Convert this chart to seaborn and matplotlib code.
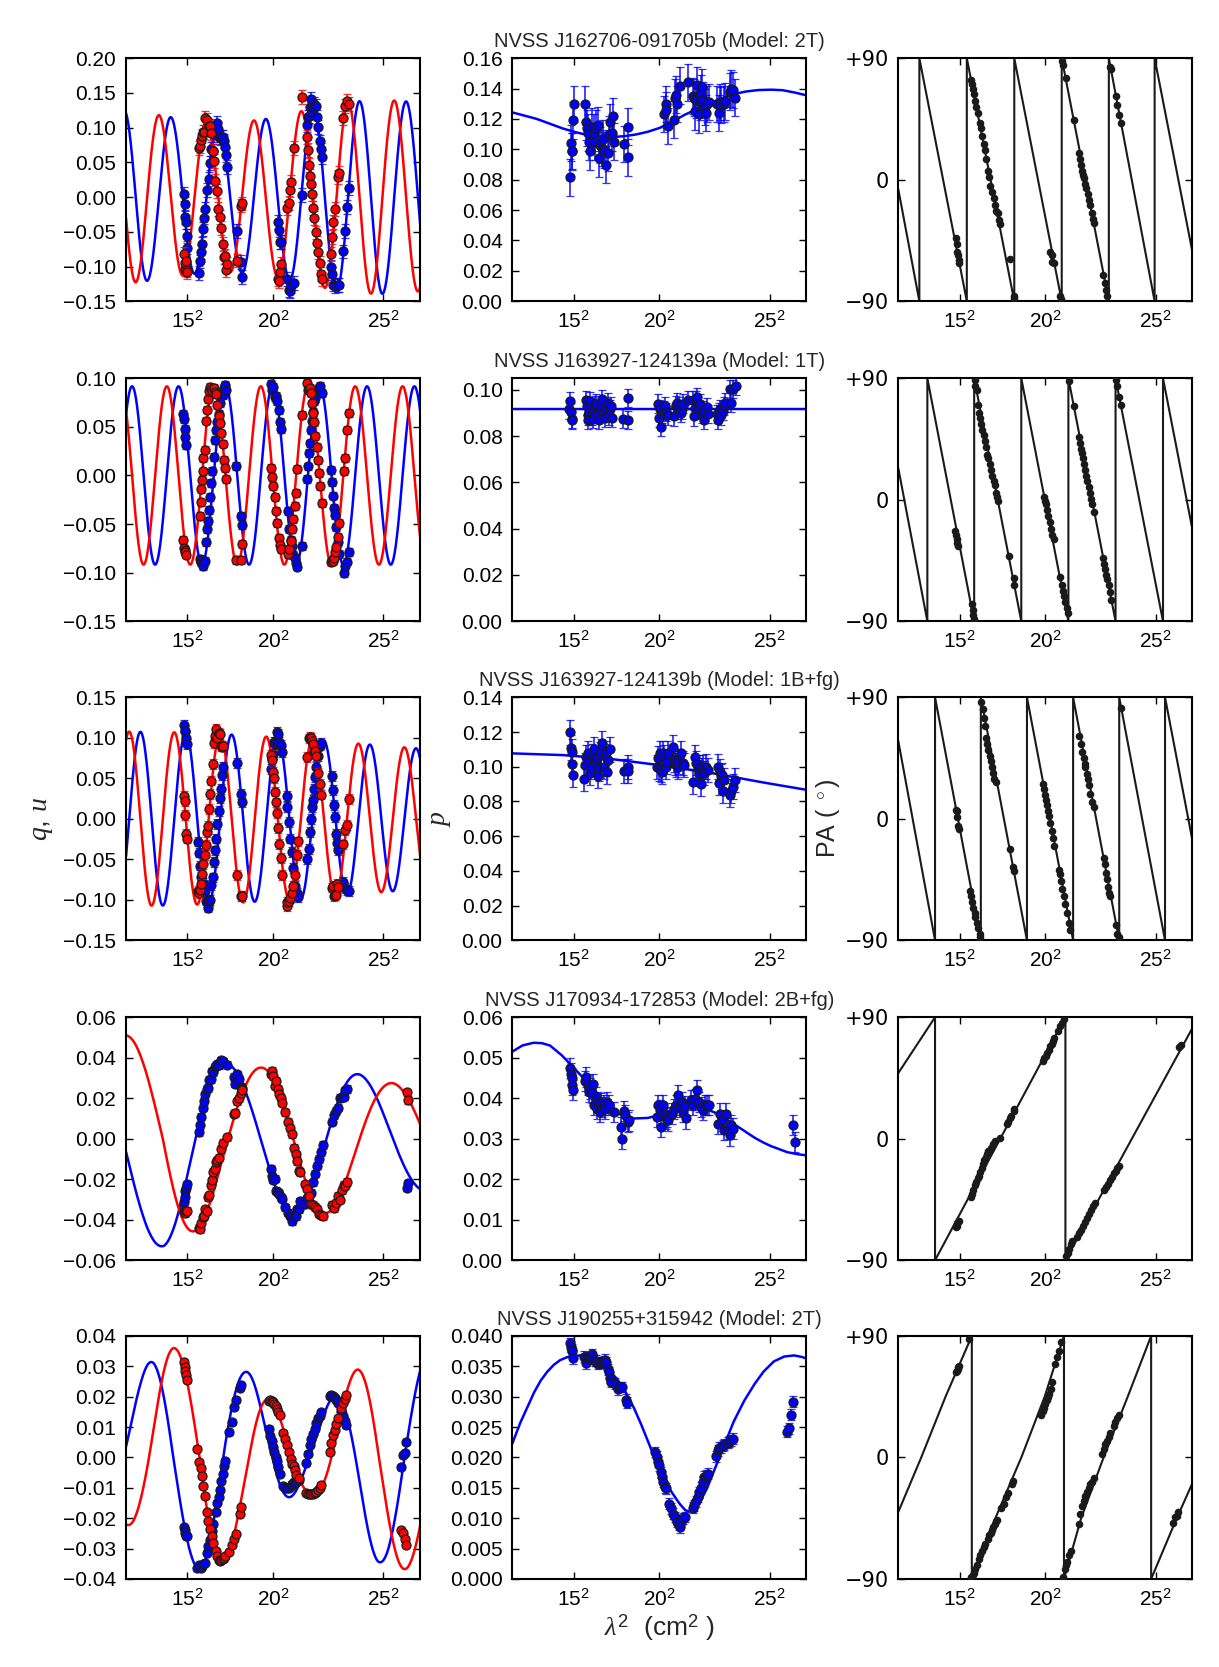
import numpy as np
import matplotlib
matplotlib.use("Agg")
import matplotlib.pyplot as plt
import matplotlib.ticker as mticker
import seaborn as sns

# Values.
# Per source: channel lambda^2 (cm^2), polarisation angle PA (deg), fractional polarisation p.
# q and u are the Cartesian form of (p, 2 PA).

titles = ["NVSS J162706-091705b (Model: 2T)",
          "NVSS J163927-124139a (Model: 1T)",
          "NVSS J163927-124139b (Model: 1B+fg)",
          "NVSS J170934-172853 (Model: 2B+fg)",
          "NVSS J190255+315942 (Model: 2T)"]

# ---- source 1 ----
lam2_r1 = [218.0, 219.3, 220.7, 222.0, 223.4, 224.8,
           248.0, 250.0, 252.0, 254.8, 256.8, 258.9, 261.6, 265.7, 268.4, 271.1, 273.9, 276.6, 279.3,
           282.0, 284.8, 287.5, 290.9, 294.3, 297.7, 299.8, 302.5, 304.8, 306.5,
           327.0, 335.2, 336.6,
           410.2, 413.0, 414.3, 417.0, 429.3, 432.0, 434.1, 436.1, 443.0, 458.0,
           468.2, 470.2, 473.0, 475.0, 477.0, 479.8, 481.8, 483.9, 486.6, 489.3, 492.0, 494.8, 497.5, 500.2,
           517.3, 520.7, 522.7, 526.1, 531.6, 534.3, 543.2, 546.6, 550.0, 554.8]
pa_r1 = [-43.4, -47.7, -53.4, -55.7, -59.1, -62.0,
         73.7, 70.9, 67.0, 63.7, 58.0, 53.7, 49.4, 42.3, 38.0, 32.3, 26.6, 22.3, 15.1,
         6.6, 2.3, -4.9, -9.1, -13.4, -19.1, -23.4, -24.9, -30.0, -33.0,
         -59.0, -86.3, -87.7,
         -53.4, -55.7, -60.6, -62.0, -86.3, -88.3, 88.0, 85.1, 75.1, 44.3,
         20.0, 15.1, 10.9, 6.6, 3.7, 0.9, -3.4, -6.3, -10.6, -14.9, -19.1, -24.9, -29.1, -32.0,
         -70.6, -76.3, -82.0, -86.3, 83.7, 82.3, 62.3, 55.1, 48.0, 42.3]
p_r1 = [0.0815, 0.104, 0.099, 0.0986, 0.119, 0.130,
        0.130, 0.118, 0.114, 0.111, 0.105, 0.0986, 0.115, 0.111, 0.105, 0.114, 0.116, 0.094, 0.103,
        0.101, 0.107, 0.0997, 0.090, 0.0975, 0.110, 0.118, 0.111, 0.122, 0.105,
        0.1035, 0.0947, 0.115,
        0.1234, 0.130, 0.126, 0.1155, 0.1195, 0.134, 0.136, 0.130, 0.142, 0.144,
        0.135, 0.134, 0.125, 0.1326, 0.1425, 0.123, 0.131, 0.137, 0.141, 0.1326, 0.128, 0.124, 0.130, 0.131,
        0.130, 0.124, 0.131, 0.129, 0.130, 0.1315, 0.138, 0.140, 0.139, 0.134]
pmod_x_r1 = [100, 125, 150, 175, 200, 225, 250, 275, 300, 325, 350, 375, 400, 425, 450, 475,
             500, 525, 550, 575, 600, 625, 650, 675, 700]
pmod_r1 = [0.1243, 0.1222, 0.120, 0.1170, 0.114, 0.1116, 0.1096, 0.1085, 0.108, 0.1085, 0.1096,
           0.1114, 0.114, 0.118, 0.1225, 0.1263, 0.130, 0.1333, 0.1363, 0.138, 0.139, 0.1393,
           0.139, 0.1375, 0.1355]
pamod_x_r1 = [100, 143.0, 143.0, 239.8, 239.8, 336.6, 336.6, 433.4, 433.4, 529.5, 529.5, 622.9, 622.9, 700]
pamod_r1 = [-7, -90, 90, -90, 90, -90, 90, -90, 90, -90, 90, -90, 90, -53.5]

# ---- source 2 ----
lam2_r2 = [215.9, 218.0, 219.3, 220.7, 222.7,
           250.0, 252.0, 253.4, 254.8, 256.1, 257.5, 260.2, 262.3, 264.3, 267.0, 269.1, 271.1, 273.9,
           275.9, 278.6, 280.7, 283.4, 286.1, 288.9, 291.6, 294.3, 297.0, 299.1, 301.1, 303.2,
           325.0, 335.2, 336.6,
           396.6, 398.6, 400.7, 403.4, 406.1, 408.9, 411.6, 414.3, 417.0, 430.7, 433.4, 436.1, 438.9,
           440.9, 444.3, 446.4, 447.7, 458.0,
           468.2, 470.2, 472.3, 474.3, 476.4, 478.4, 480.4, 483.2, 485.9, 488.6, 490.7, 493.4, 496.1, 498.9,
           517.3, 519.3, 522.0, 524.1, 526.1, 528.9, 531.6, 534.3, 543.9, 546.6, 550.7, 555.3]
pa_r2 = [-23.2, -26.1, -28.9, -31.7, -34.6,
         -77.0, -81.3, -85.6, -88.4, 88.7, 84.5, 81.6, 70.3, 64.6, 60.4, 56.1, 51.9, 47.6,
         43.4, 39.1, 33.4, 30.6, 26.4, 22.1, 17.9, 13.6, 10.8, 5.1, 2.3, -1.1,
         -41.7, -57.8, -62.9,
         2.3, -0.6, -3.4, -7.7, -11.9, -16.2, -21.8, -26.1, -28.9, -57.3, -62.9, -67.2, -71.4,
         -75.7, -79.9, -84.2, 87.9, 69.7,
         46.2, 42.0, 37.7, 34.9, 30.6, 26.4, 22.1, 17.9, 13.6, 9.4, 5.1, 0.9, -3.4, -9.1,
         -43.1, -47.3, -51.6, -55.8, -58.7, -62.9, -68.6, -74.3, 88.7, 84.5, 76.0, 70.3]
p_r2 = [0.0915, 0.095, 0.0905, 0.0875, 0.087,
        0.0955, 0.093, 0.089, 0.087, 0.0905, 0.095, 0.092, 0.089, 0.0875, 0.091, 0.0935, 0.094, 0.0895,
        0.087, 0.0915, 0.093, 0.096, 0.0905, 0.088, 0.092, 0.0945, 0.089, 0.0915, 0.093, 0.088,
        0.0875, 0.0964, 0.087,
        0.094, 0.088, 0.0915, 0.084, 0.0895, 0.091, 0.093, 0.0905, 0.089, 0.0885, 0.0935, 0.0945, 0.0915,
        0.093, 0.090, 0.0915, 0.094, 0.0955,
        0.0955, 0.0885, 0.092, 0.0955, 0.097, 0.093, 0.0915, 0.094, 0.0895, 0.091, 0.087, 0.0905, 0.0925, 0.0895,
        0.0895, 0.087, 0.0905, 0.0915, 0.089, 0.091, 0.093, 0.0945, 0.1004, 0.0945, 0.1003, 0.1016]
pmod_x_r2 = [100, 700]
pmod_r2 = [0.0917, 0.0917]
pamod_x_r2 = [100, 159.3, 159.3, 254.8, 254.8, 350.9, 350.9, 447.0, 447.0, 543.2, 543.2, 640.0, 640.0, 700]
pamod_r2 = [23.5, -90, 90, -90, 90, -90, 90, -90, 90, -90, 90, -90, 90, -22]

# ---- source 3 ----
lam2_r3 = [218.0, 219.3, 220.7, 222.0, 223.4,
           246.6, 248.6, 250.7, 253.4, 255.5, 257.5, 260.2, 262.9, 265.7, 267.0, 269.7, 271.8, 273.9,
           276.6, 279.3, 281.4, 283.4, 286.1, 288.9, 290.9, 292.9, 295.7, 298.4,
           327.0, 335.0, 336.6,
           395.2, 397.3, 399.3, 401.4, 403.4, 405.5, 407.5, 410.2, 413.0, 415.7, 418.4, 427.3, 429.3,
           432.0, 434.8, 437.5, 440.9, 444.3, 448.4, 451.1,
           469.2, 472.6, 474.6, 477.9, 479.9, 481.4, 484.1, 486.2, 488.2, 491.6, 495.0, 498.4,
           519.3, 521.4, 523.4, 525.5, 527.5, 529.5, 531.6, 543.2, 546.6, 550.0, 554.8]
pa_r3 = [6.9, 5.6, 1.3, -5.2, -7.4,
         -53.8, -57.2, -61.6, -65.9, -69.4, -72.4, -76.8, -81.1, -85.5, -87.6, 86.7, 81.5, 75.0,
         68.5, 59.8, 55.5, 51.2, 46.8, 42.5, 38.2, 33.8, 29.5, 27.3,
         -22.5, -36.0, -39.0,
         26.0, 22.0, 18.0, 14.0, 10.0, 6.0, 2.0, -3.0, -9.0, -14.0, -20.0, -37.7, -41.0,
         -46.0, -52.0, -57.0, -63.0, -70.0, -77.0, -82.0,
         61.4, 55.2, 49.5, 45.0, 40.8, 38.1, 33.0, 29.3, 25.2, 18.2, 12.7, 8.9,
         -29.0, -33.4, -39.9, -44.2, -50.7, -55.1, -57.2, -78.9, -85.4, -87.6, 82.4]
p_r3 = [0.1198, 0.111, 0.1087, 0.1016, 0.0953,
        0.093, 0.101, 0.1055, 0.108, 0.103, 0.0965, 0.100, 0.106, 0.104, 0.110, 0.1025, 0.105, 0.0945,
        0.099, 0.107, 0.109, 0.1135, 0.100, 0.106, 0.108, 0.097, 0.104, 0.110,
        0.0975, 0.100, 0.0975,
        0.100, 0.105, 0.099, 0.108, 0.0985, 0.097, 0.1077, 0.1058, 0.100, 0.103, 0.1077, 0.1115, 0.1039,
        0.102, 0.101, 0.100, 0.103, 0.1077, 0.102, 0.101,
        0.0911, 0.1058, 0.102, 0.0995, 0.0968, 0.0957, 0.090, 0.098, 0.100, 0.0963, 0.1001, 0.098,
        0.1001, 0.0905, 0.0972, 0.0944, 0.0953, 0.0861, 0.0924, 0.0838, 0.0861, 0.0886, 0.0924]
pmod_x_r3 = [100, 200, 300, 400, 500, 600, 700]
pmod_r3 = [0.1077, 0.1068, 0.1045, 0.1010, 0.0967, 0.0915, 0.0867]
pamod_x_r3 = [100, 175.0, 175.0, 268.4, 268.4, 362.5, 362.5, 456.6, 456.6, 550.7, 550.7, 644.1, 644.1, 700]
pamod_r3 = [57.7, -90, 90, -90, 90, -90, 90, -90, 90, -90, 90, -90, 90, -16]

# ---- source 4 ----
lam2_r4 = [218.0, 219.3, 220.7, 222.0, 223.4,
           248.0, 250.7, 253.4, 256.1, 258.9, 261.6, 264.3, 267.0, 269.8, 272.5, 275.2, 278.0, 280.7,
           283.4, 286.1, 288.9, 293.0, 297.0, 306.6,
           321.0, 323.0, 327.0, 330.0, 335.2, 337.0,
           395.2, 397.9, 400.7, 403.4, 406.8, 410.2, 413.0, 415.7, 418.4, 425.0, 430.7, 434.1, 437.5,
           443.0, 445.7, 448.4, 452.5, 455.0,
           464.8, 468.9, 473.0, 477.1, 481.1, 485.2, 489.3, 493.4, 497.5, 501.6,
           519.3, 523.4, 527.5, 531.6, 535.7, 539.8, 543.9, 547.0, 550.0,
           672.7, 676.1]
pa_r4 = [-65.6, -64.5, -62.6, -62.0, -61.2,
         -42.9, -40.8, -37.7, -34.2, -32.0, -28.9, -27.6, -24.6, -22.0, -19.0, -15.9, -13.3, -11.5,
         -8.9, -8.1, -7.2, -3.7, -1.5, 0.6,
         11.0, 12.5, 15.0, 17.0, 20.5, 22.0,
         57.3, 59.5, 61.5, 63.5, 66.0, 68.5, 70.5, 72.5, 74.5, 79.5, 83.5, 86.0, 88.5,
         -86.5, -84.3, -81.3, -77.8, -76.0,
         -72.6, -70.0, -67.4, -64.7, -61.7, -58.6, -55.6, -52.5, -49.9, -47.3,
         -37.7, -35.5, -33.3, -30.7, -28.1, -25.5, -23.7, -22.0, -20.5,
         68.2, 69.5]
p_r4 = [0.0475, 0.0461, 0.0449, 0.0432, 0.042,
        0.0442, 0.0453, 0.0432, 0.0416, 0.0424, 0.0412, 0.0434, 0.0383, 0.0403, 0.0374, 0.0391, 0.0366, 0.0387,
        0.0379, 0.0383, 0.0374, 0.0391, 0.0383, 0.0366,
        0.0329, 0.030, 0.0368, 0.0358, 0.0341, 0.0345,
        0.0354, 0.0383, 0.037, 0.0329, 0.0383, 0.0362, 0.035, 0.0354, 0.0345, 0.0362, 0.0374, 0.0384, 0.0407,
        0.0379, 0.0391, 0.0366, 0.0381, 0.035,
        0.0395, 0.0383, 0.0397, 0.042, 0.0391, 0.0379, 0.037, 0.0384, 0.0383, 0.0383,
        0.0337, 0.0362, 0.0345, 0.0321, 0.0362, 0.0325, 0.0308, 0.0333, 0.0325,
        0.0333, 0.0292]
pmod_x_r4 = [100, 120, 143, 160, 177, 200, 223, 240, 259, 280, 300, 320, 347, 375, 400, 420,
             443, 465, 483, 511, 530, 551, 570, 592, 608, 625, 660, 680, 700]
pmod_r4 = [0.0515, 0.0530, 0.0537, 0.0536, 0.0530, 0.0507, 0.0478, 0.0456, 0.0432, 0.0402,
           0.0374, 0.0360, 0.0350, 0.0351, 0.0358, 0.0367, 0.0374, 0.0378, 0.0378, 0.0366,
           0.0353, 0.0337, 0.0322, 0.0304, 0.0293, 0.0283, 0.0267, 0.0262, 0.0259]
pamod_x_r4 = [100, 175.0, 175.0, 440.9, 440.9, 700]
pamod_r4 = [48.6, 90, -90, 90, -90, 82]

# ---- source 5 ----
lam2_r5 = [218.1, 219.5, 220.8, 222.2, 223.5,
           245.2, 249.3, 252.0, 254.7, 257.5, 261.5, 264.2, 267.6, 271.0, 274.4, 277.8, 283.2, 286.0,
           288.7, 291.4, 294.1, 296.8, 299.5, 302.2,
           310.4, 315.8, 319.9, 324.0, 332.1, 334.2,
           391.8, 394.5, 397.2, 400.0, 402.7, 405.4, 408.1, 410.9, 413.6, 420.3, 424.4, 428.5, 432.5,
           436.6, 439.4, 442.1, 444.8, 447.5, 452.9,
           467.9, 471.2, 474.6, 478.0, 481.4, 484.8, 488.2, 491.6, 495.0, 498.4,
           515.4, 518.8, 522.1, 525.5, 528.9, 532.3, 539.1, 542.5, 545.9, 549.3,
           659.9, 664.7, 668.1, 671.5]
pa_r5 = [63.1, 64.3, 65.5, 66.7, 67.8,
         87.8, -88.7, -87.2, -85.2, -82.5, -79.9, -75.1, -72.2, -69.4, -66.5, -64.0, -60.2, -57.3,
         -55.7, -53.6, -51.5, -49.6, -47.4, -46.0,
         -37.5, -34.1, -29.3, -26.5, -19.4, -17.3,
         31.5, 34.5, 36.7, 39.9, 42.2, 45.0, 47.1, 50.7, 55.7, 69.5, 74.5, 79.2, 85.3,
         -88.4, -82.7, -79.9, -77.3, -72.5, -69.0,
         -49.2, -42.0, -35.7, -32.0, -28.4, -25.5, -22.5, -20.0, -17.9, -15.5,
         2.7, 6.5, 10.1, 12.5, 15.0, 18.0, 23.5, 26.4, 29.0, 31.4,
         -48.9, -44.1, -43.3, -40.1]
p_r5 = [0.0388, 0.0382, 0.0377, 0.0375, 0.0363,
        0.0366, 0.0355, 0.0365, 0.0363, 0.0364, 0.037, 0.0362, 0.0359, 0.0359, 0.0354, 0.0357, 0.0357, 0.0358,
        0.0361, 0.0357, 0.0345, 0.034, 0.0331, 0.0325,
        0.0321, 0.0312, 0.0316, 0.0316, 0.0295, 0.029,
        0.0209, 0.0201, 0.0193, 0.0187, 0.0176, 0.0168, 0.016, 0.0151, 0.0149, 0.0124, 0.0116, 0.0107, 0.0102,
        0.0094, 0.0089, 0.0085, 0.0094, 0.010, 0.0102,
        0.0117, 0.0121, 0.0128, 0.0135, 0.0143, 0.015, 0.016, 0.0168, 0.017, 0.0173,
        0.0202, 0.0212, 0.0216, 0.0217, 0.022, 0.0221, 0.0224, 0.0226, 0.0228, 0.0231,
        0.0242, 0.0248, 0.027, 0.0292]
pmod_x_r5 = [100, 115, 129.3, 143, 156.5, 170, 183.8, 197, 211, 223.3, 240, 251.9, 265, 279,
             296, 313, 330, 347.2, 361, 374.4, 388, 401.7, 415, 429, 441, 452.8, 461, 469.8,
             483, 497, 510, 524.3, 538, 551.5, 572, 592.4, 612, 633.2, 654, 674, 688, 700]
pmod_r5 = [0.0223, 0.0255, 0.028, 0.0305, 0.0325, 0.0340, 0.0352, 0.0360, 0.0365, 0.0367,
           0.0368, 0.0367, 0.0362, 0.0355, 0.0344, 0.033, 0.0309, 0.0283, 0.0258, 0.0231,
           0.0204, 0.0176, 0.0155, 0.0138, 0.0124, 0.0113, 0.0111, 0.0113, 0.0127, 0.0149,
           0.0175, 0.0204, 0.0232, 0.0259, 0.0292, 0.0319, 0.0341, 0.0358, 0.0366, 0.0368,
           0.0366, 0.0363]
pamod_x_r5 = [100, 146.8, 196.4, 250.0, 250.0, 298.0, 351.0, 398.6, 438.0, 438.0, 473.0, 518.8,
              568.0, 615.8, 615.8, 668.0, 700]
pamod_r5 = [-40.4, 0, 45, 90, -90, -45, 0, 45, 90, -90, -45, 0, 45, 90, -90, -45, -19]

# error bar sizes per source
qu_err = [0.010, 0.004, 0.006, 0.0018, 0.0008]
p_err = [0.012, 0.004, 0.007, 0.0025, 0.0009]

# axis ranges / ticks per source
qu_ylim = [(-0.15, 0.20), (-0.15, 0.10), (-0.15, 0.15), (-0.06, 0.06), (-0.04, 0.04)]
qu_step = [0.05, 0.05, 0.05, 0.02, 0.01]
p_ylim = [(0, 0.16), (0, 0.105), (0, 0.14), (0, 0.06), (0, 0.04)]
p_ticks = [[0.00, 0.02, 0.04, 0.06, 0.08, 0.10, 0.12, 0.14, 0.16],
           [0.00, 0.02, 0.04, 0.06, 0.08, 0.10],
           [0.00, 0.02, 0.04, 0.06, 0.08, 0.10, 0.12, 0.14],
           [0.00, 0.01, 0.02, 0.03, 0.04, 0.05, 0.06],
           [0.000, 0.005, 0.010, 0.015, 0.020, 0.025, 0.030, 0.035, 0.040]]
p_fmt = ["%.2f", "%.2f", "%.2f", "%.2f", "%.3f"]

x_ticks = [225, 400, 625]
x_ticklabels = ["$15^2$", "$20^2$", "$25^2$"]

rows = [
    (lam2_r1, pa_r1, p_r1, pmod_x_r1, pmod_r1, pamod_x_r1, pamod_r1),
    (lam2_r2, pa_r2, p_r2, pmod_x_r2, pmod_r2, pamod_x_r2, pamod_r2),
    (lam2_r3, pa_r3, p_r3, pmod_x_r3, pmod_r3, pamod_x_r3, pamod_r3),
    (lam2_r4, pa_r4, p_r4, pmod_x_r4, pmod_r4, pamod_x_r4, pamod_r4),
    (lam2_r5, pa_r5, p_r5, pmod_x_r5, pmod_r5, pamod_x_r5, pamod_r5),
]


def unwrap_knots(kx, ky):
    # the PA model polyline jumps by 180 deg at repeated x; undo that for q/u
    ux, uy = [kx[0]], [ky[0]]
    off = 0.0
    for i in range(1, len(kx)):
        if kx[i] == kx[i - 1]:
            off += ky[i - 1] - ky[i]
            continue
        ux.append(kx[i])
        uy.append(ky[i] + off)
    return ux, uy


def minus_fmt(fmt):
    return mticker.FuncFormatter(lambda v, pos: (fmt % v).replace("-", "\u2212"))


sns.set_theme(style="ticks")
plt.rcParams['font.family'] = ['Liberation Sans', 'DejaVu Sans']
plt.rcParams.update({
    "mathtext.fontset": "custom",
    "mathtext.rm": "Liberation Sans",
    "mathtext.it": "Liberation Serif:italic",
    "mathtext.bf": "Liberation Sans:bold",
    "axes.linewidth": 1.5,
    "axes.edgecolor": "black",
    "xtick.color": "black",
    "ytick.color": "black",
})

fig = plt.figure(figsize=(12.19, 16.67), dpi=100)
lefts = [0.1034, 0.4203, 0.7369]
width = 0.2413
bottoms = [0.8193, 0.6273, 0.4359, 0.2440, 0.0528]
height = 0.1458

grid = np.linspace(100, 700, 1201)

for i, (lam, pa, p, pmx, pmy, pax, pay) in enumerate(rows):
    lam = np.asarray(lam)
    pa = np.asarray(pa)
    p = np.asarray(p)
    q = p * np.cos(np.radians(2 * pa))
    u = p * np.sin(np.radians(2 * pa))

    ux, uy = unwrap_knots(pax, pay)
    pa_m = np.interp(grid, ux, uy)
    p_m = np.interp(grid, pmx, pmy)
    q_m = p_m * np.cos(np.radians(2 * pa_m))
    u_m = p_m * np.sin(np.radians(2 * pa_m))

    ax1 = fig.add_axes([lefts[0], bottoms[i], width, height])
    ax2 = fig.add_axes([lefts[1], bottoms[i], width, height])
    ax3 = fig.add_axes([lefts[2], bottoms[i], width, height])

    # q, u
    sns.lineplot(x=grid, y=q_m, color="#0000ff", lw=1.8, ax=ax1, estimator=None, sort=False, zorder=2)
    sns.lineplot(x=grid, y=u_m, color="#ff0000", lw=1.8, ax=ax1, estimator=None, sort=False, zorder=2)
    ax1.errorbar(lam, q, yerr=qu_err[i], fmt="o", ms=6.5, mfc="#0000ff", mec="k", mew=0.9,
                 ecolor=(0, 0, 1, 0.8), elinewidth=1.3, capsize=3, capthick=1.3, zorder=3)
    ax1.errorbar(lam, u, yerr=qu_err[i], fmt="o", ms=6.5, mfc="#ff0000", mec="k", mew=0.9,
                 ecolor=(1, 0, 0, 0.8), elinewidth=1.3, capsize=3, capthick=1.3, zorder=4)
    lo, hi = qu_ylim[i]
    ax1.set_ylim(lo, hi)
    ax1.set_yticks(np.round(np.arange(lo, hi + 1e-9, qu_step[i]), 3))
    ax1.yaxis.set_major_formatter(minus_fmt("%.2f"))

    # p
    sns.lineplot(x=grid, y=p_m, color="#0000ff", lw=1.8, ax=ax2, estimator=None, sort=False, zorder=2)
    ax2.errorbar(lam, p, yerr=p_err[i], fmt="o", ms=6.5, mfc="#0000ff", mec="k", mew=0.9,
                 ecolor=(0, 0, 1, 0.8), elinewidth=1.3, capsize=3, capthick=1.3, zorder=3)
    ax2.set_ylim(*p_ylim[i])
    ax2.set_yticks(p_ticks[i])
    ax2.yaxis.set_major_formatter(minus_fmt(p_fmt[i]))
    ax2.set_title(titles[i], fontsize=14.5, pad=8)

    # PA
    sns.lineplot(x=pax, y=pay, color="k", lw=1.5, ax=ax3, estimator=None, sort=False, zorder=2)
    sns.scatterplot(x=lam, y=pa, color="k", s=30, linewidth=0, ax=ax3, zorder=3)
    ax3.set_ylim(-90, 90)
    ax3.set_yticks([-90, 0, 90])
    ax3.set_yticklabels(["\u221290", "0", "+90"], family=["DejaVu Sans"])

    for ax in (ax1, ax2, ax3):
        ax.set_xlim(100, 700)
        ax.set_xticks(x_ticks)
        ax.set_xticklabels(x_ticklabels)
        ax.set_xlabel("")
        ax.set_ylabel("")
        ax.tick_params(direction="in", top=True, right=True, length=5, width=1,
                       labelsize=15, pad=7)
        for s in ax.spines.values():
            s.set_linewidth(1.5)
            s.set_visible(True)

    if i == 2:
        ax1.set_ylabel("$q$, $u$", fontsize=20, labelpad=6)
        ax2.set_ylabel("$p$", fontsize=20, labelpad=6)
        ax3.set_ylabel("PA ( $^\\circ$)", fontsize=18, labelpad=2)
    if i == 4:
        ax2.set_xlabel("$\\lambda^2$  (cm$^2$ )", fontsize=19, labelpad=2)

fig.savefig("out.png", dpi=100)
